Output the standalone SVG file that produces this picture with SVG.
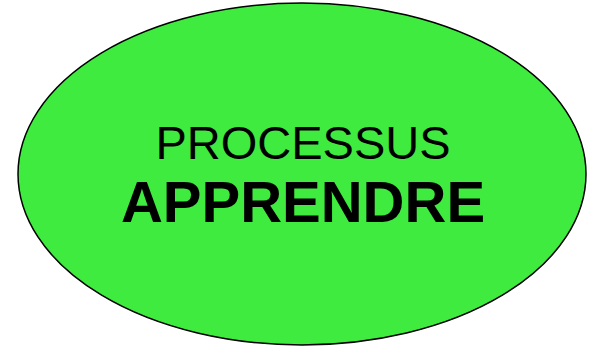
<svg xmlns="http://www.w3.org/2000/svg" width="596" height="347" viewBox="0 0 596 347">
<style>
.t{font-family:"Liberation Sans",Arial,sans-serif;fill:#000;text-anchor:middle}
</style>
<rect width="596" height="347" fill="#fff"/>
<g id="processus">
<ellipse cx="302" cy="174" rx="284" ry="171" fill="#3eeb3e" stroke="#000" stroke-width="1.5"/>
<text class="t" x="303" y="158.5" font-size="47">PROCESSUS</text>
<text class="t" x="303" y="222" font-size="58" font-weight="bold">APPRENDRE</text>
</g>
</svg>
